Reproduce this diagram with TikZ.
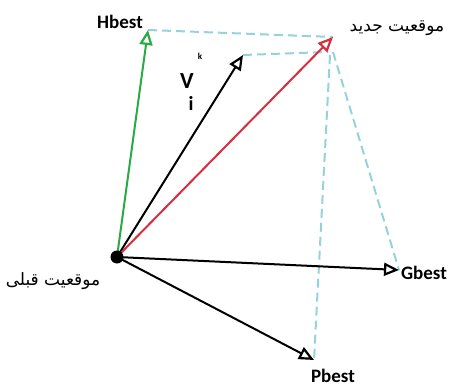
\documentclass[tikz,border=0pt]{standalone}
\usepackage{fontspec}
\setmainfont{Carlito}
\newfontfamily\arabicfont[Script=Arabic]{DejaVu Sans}
\TeXXeTstate=1
\usetikzlibrary{arrows.meta}
\definecolor{vgreen}{RGB}{40,170,70}
\definecolor{vred}{RGB}{215,45,60}
\definecolor{vcyan}{RGB}{150,210,220}
\tikzset{
  vec/.style={line width=2pt,-{Triangle[open,length=15pt,width=13pt,line width=2.2pt]}},
  guide/.style={vcyan,line width=2pt,dash pattern=on 9pt off 5pt},
  lbl/.style={font=\bfseries\fontsize{19}{22}\selectfont,inner sep=0pt},
  albl/.style={font=\arabicfont\fontsize{17}{20}\selectfont,inner sep=0pt},
}
\begin{document}
\begin{tikzpicture}[x=1pt,y=-1pt]
\useasboundingbox (0,0) rectangle (454,387);
\coordinate (O) at (117,257);
\coordinate (H) at (148,30);
\coordinate (V) at (243,55);
\coordinate (N) at (333,37);
\coordinate (G) at (399,270);
\coordinate (P) at (314,360);
% guide lines
\draw[guide] (H) -- (N);
\draw[guide] (V) -- (328,52);
\draw[guide] (333,52) -- (G);
\draw[guide] (330,55) -- (P);
% vectors
\draw[vec,vgreen] (O) -- (H);
\draw[vec,black] (O) -- (V);
\draw[vec,vred] (O) -- (N);
\draw[vec,black] (O) -- (G);
\draw[vec,black] (O) -- (P);
\fill[black] (O) circle (6.5);
% labels
\node[lbl] (lh) at (120,22) {Hbest};
\node[lbl,font=\bfseries\fontsize{23}{25}\selectfont] (lv) at (187,81) {V};
\node[lbl,font=\bfseries\fontsize{20}{22}\selectfont] (li) at (191,103) {i};
\node[lbl,font=\bfseries\fontsize{9}{10}\selectfont] (lk) at (200,56) {k};
\node[lbl] (lg) at (424,273) {Gbest};
\node[lbl] (lp) at (333,376) {Pbest};
\node[albl] (ln) at (397,28) {\beginR موقعیت جدید\endR};
\node[albl] (lo) at (53,281) {\beginR موقعیت قبلی\endR};
\end{tikzpicture}
\end{document}
